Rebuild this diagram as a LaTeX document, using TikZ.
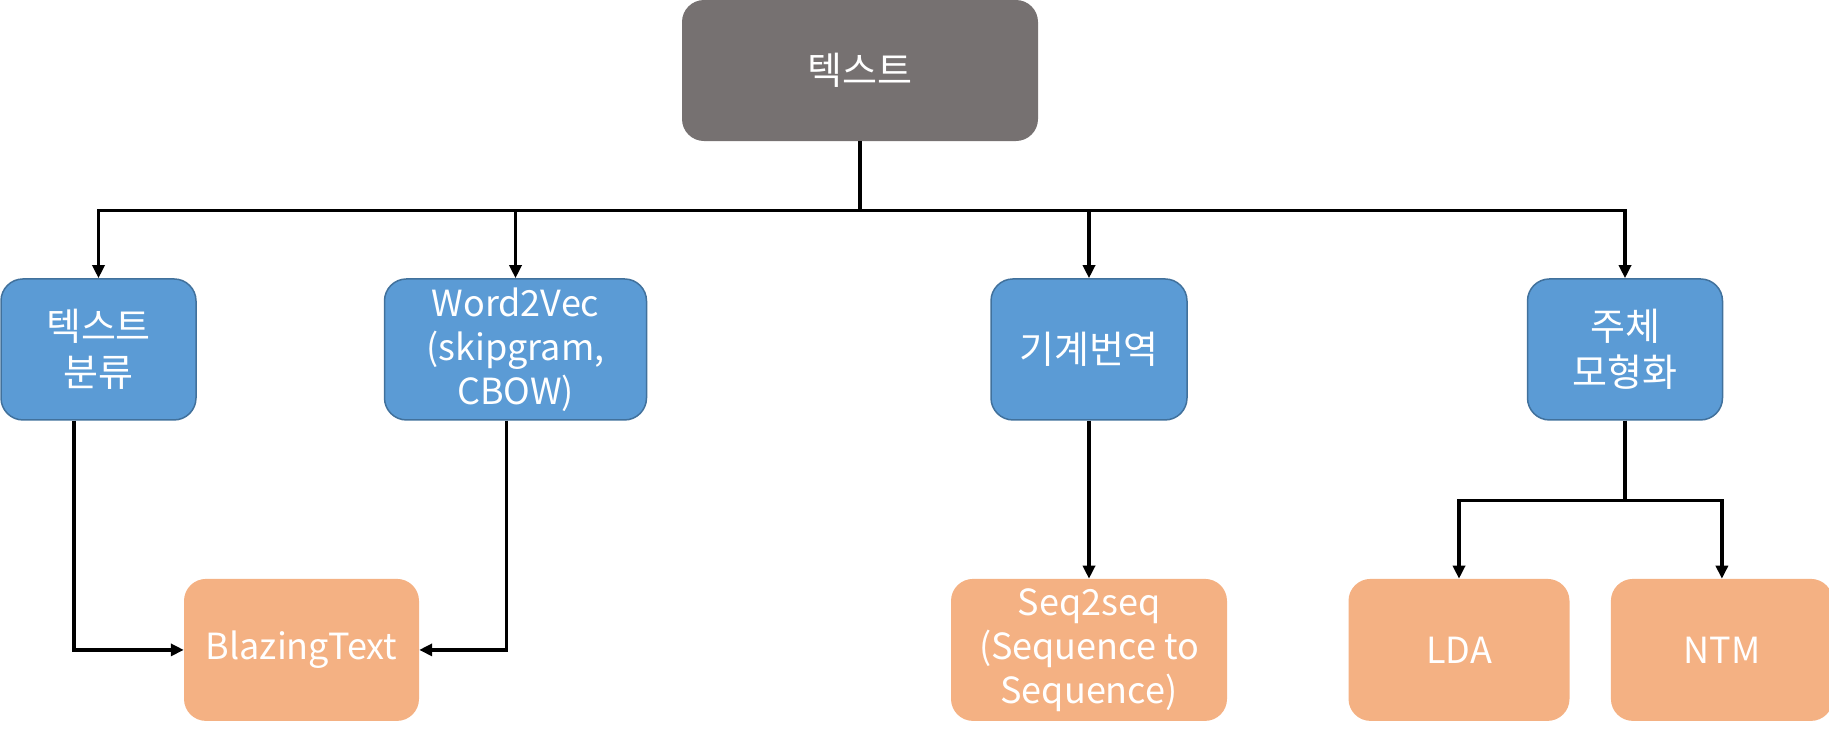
\documentclass[tikz,border=0pt]{standalone}
\usepackage{fontspec}
\setmainfont{Noto Sans CJK KR}
\usepackage{tikz}
\usetikzlibrary{arrows.meta, positioning}
\definecolor{boxgray}{HTML}{767171}
\definecolor{boxblue}{HTML}{5B9BD5}
\definecolor{boxblueline}{HTML}{41719C}
\definecolor{boxorange}{HTML}{F4B183}
\tikzstyle{arrow}=[-{Triangle[length=13pt, width=12pt]}, line width=3.4pt, color=black]

\begin{document}
\begin{tikzpicture}[node distance=137pt and 187pt,
  mbox/.style={rectangle, rounded corners=22pt, inner sep=0pt,
               minimum height=141pt, align=center, text=white,
               font=\fontsize{38}{46}\selectfont},
  latin/.style={font=\fontsize{36}{44}\selectfont},
  catbox/.style={mbox, fill=boxblue, draw=boxblueline, line width=1.5pt},
  algbox/.style={mbox, fill=boxorange, minimum height=142pt}
]
\useasboundingbox (0,0) rectangle (1829pt,-740pt);

\node[mbox, fill=boxgray, minimum width=356pt] (text_n) at (860pt,-70.5pt) {텍스트};

\node[catbox, minimum width=195pt, below=137pt of text_n, xshift=-761.5pt] (cls_n) {텍스트\\분류};
\node[catbox, latin, minimum width=262pt, right=187pt of cls_n] (w2v_n) {Word2Vec\\(skipgram,\\CBOW)};
\node[catbox, minimum width=196pt, right=343pt of w2v_n] (mt_n) {기계번역};
\node[catbox, minimum width=195pt, right=339pt of mt_n] (topic_n) {주체\\모형화};

\node[algbox, latin, minimum width=235pt, below=158pt of cls_n, xshift=203pt] (blaze_n) {BlazingText};
\node[algbox, latin, minimum width=276pt, below=158pt of mt_n] (seq_n) {Seq2seq\\(Sequence to\\Sequence)};
\node[algbox, latin, minimum width=221pt, below=158pt of topic_n, xshift=-166pt] (lda_n) {LDA};
\node[algbox, latin, minimum width=222pt, right=41pt of lda_n] (ntm_n) {NTM};

\draw[arrow] (text_n.south) -- ++(0,-69pt) -| (cls_n.north);
\draw[arrow] (text_n.south) -- ++(0,-69pt) -| (w2v_n.north);
\draw[arrow] (text_n.south) -- ++(0,-69pt) -| (mt_n.north);
\draw[arrow] (text_n.south) -- ++(0,-69pt) -| (topic_n.north);

\draw[arrow] ([xshift=-24.5pt]cls_n.south) |- (blaze_n.west);
\draw[arrow] ([xshift=-9pt]w2v_n.south) |- (blaze_n.east);
\draw[arrow] (mt_n) -- (seq_n);
\draw[arrow] (topic_n.south) -- ++(0,-80pt) -| (lda_n.north);
\draw[arrow] (topic_n.south) -- ++(0,-80pt) -| (ntm_n.north);
\end{tikzpicture}
\end{document}
